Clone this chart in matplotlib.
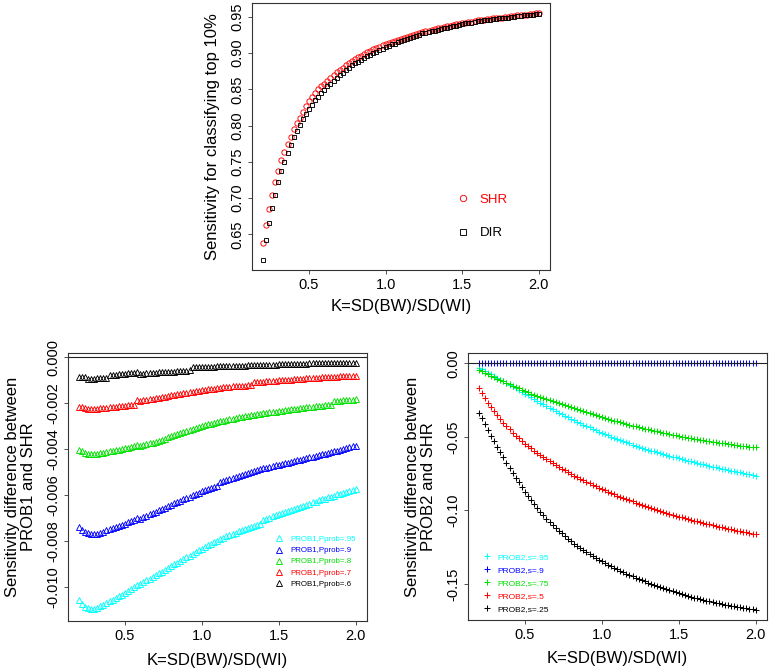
import numpy as np
import matplotlib
matplotlib.use("Agg")
import matplotlib.pyplot as plt

plt.rcParams['font.family'] = ['Liberation Sans', 'DejaVu Sans']

# K = SD(BW)/SD(WI), 0.20 .. 2.00 in steps of 0.02
k = np.round(np.arange(0.20, 2.0001, 0.02), 2)

# top panel: sensitivity for classifying top 10%
shr = [0.638, 0.663, 0.685, 0.705, 0.722, 0.738, 0.752, 0.764, 0.775, 0.785,
       0.795, 0.803, 0.811, 0.819, 0.827, 0.834, 0.840, 0.845, 0.850, 0.854,
       0.858, 0.862, 0.866, 0.870, 0.874, 0.877, 0.880, 0.883, 0.886, 0.889,
       0.892, 0.894, 0.896, 0.899, 0.901, 0.903, 0.905, 0.907, 0.909, 0.911,
       0.912, 0.914, 0.915, 0.917, 0.918, 0.920, 0.921, 0.922, 0.924, 0.925,
       0.926, 0.927, 0.929, 0.930, 0.931, 0.932, 0.933, 0.934, 0.935, 0.936,
       0.937, 0.938, 0.939, 0.940, 0.940, 0.941, 0.942, 0.943, 0.943, 0.944,
       0.945, 0.945, 0.946, 0.947, 0.947, 0.948, 0.948, 0.949, 0.949, 0.950,
       0.950, 0.951, 0.951, 0.952, 0.952, 0.953, 0.953, 0.954, 0.954, 0.955,
       0.955]
dir_ = [0.615, 0.642, 0.666, 0.687, 0.705, 0.722, 0.737, 0.750, 0.762, 0.773,
        0.784, 0.793, 0.801, 0.809, 0.816, 0.823, 0.829, 0.835, 0.840, 0.845,
        0.849, 0.854, 0.858, 0.862, 0.866, 0.870, 0.873, 0.876, 0.880, 0.883,
        0.886, 0.888, 0.891, 0.893, 0.896, 0.898, 0.900, 0.902, 0.904, 0.906,
        0.908, 0.910, 0.912, 0.913, 0.915, 0.917, 0.918, 0.919, 0.921, 0.922,
        0.924, 0.925, 0.927, 0.928, 0.929, 0.930, 0.931, 0.932, 0.933, 0.934,
        0.935, 0.936, 0.937, 0.938, 0.939, 0.940, 0.941, 0.941, 0.942, 0.943,
        0.944, 0.944, 0.945, 0.946, 0.946, 0.947, 0.947, 0.948, 0.948, 0.949,
        0.949, 0.950, 0.950, 0.951, 0.951, 0.952, 0.952, 0.953, 0.953, 0.954,
        0.954]

# bottom left: PROB1 - SHR, in units of 1e-3
prob1_95 = [-10.57, -10.75, -10.86, -10.93, -10.97, -10.96, -10.90, -10.84, -10.77, -10.70,
            -10.63, -10.56, -10.48, -10.41, -10.33, -10.26, -10.18, -10.10, -10.00, -9.93,
            -9.86, -9.79, -9.71, -9.64, -9.56, -9.48, -9.41, -9.33, -9.25, -9.17,
            -9.09, -9.01, -8.94, -8.86, -8.78, -8.70, -8.63, -8.55, -8.48, -8.40,
            -8.33, -8.26, -8.19, -8.12, -8.05, -7.98, -7.92, -7.86, -7.80, -7.74,
            -7.68, -7.63, -7.58, -7.53, -7.48, -7.43, -7.39, -7.35, -7.31, -7.27,
            -7.08, -7.03, -6.98, -6.93, -6.88, -6.83, -6.78, -6.73, -6.69, -6.64,
            -6.59, -6.55, -6.50, -6.46, -6.41, -6.37, -6.32, -6.28, -6.23, -6.19,
            -6.15, -6.10, -6.06, -6.02, -5.97, -5.93, -5.89, -5.85, -5.80, -5.76,
            -5.72]
prob1_90 = [-7.40, -7.52, -7.60, -7.66, -7.70, -7.71, -7.69, -7.66, -7.62, -7.53,
            -7.49, -7.44, -7.39, -7.34, -7.29, -7.24, -7.19, -7.14, -7.08, -7.00,
            -7.02, -6.96, -6.90, -6.84, -6.78, -6.72, -6.66, -6.60, -6.54, -6.48,
            -6.42, -6.36, -6.30, -6.24, -6.18, -6.12, -6.06, -6.00, -5.95, -5.89,
            -5.84, -5.79, -5.74, -5.69, -5.64, -5.60, -5.42, -5.38, -5.33, -5.29,
            -5.24, -5.20, -5.16, -5.12, -5.08, -5.04, -5.00, -4.96, -4.92, -4.88,
            -4.84, -4.81, -4.77, -4.74, -4.70, -4.67, -4.64, -4.61, -4.58, -4.55,
            -4.51, -4.48, -4.45, -4.42, -4.39, -4.36, -4.33, -4.29, -4.26, -4.23,
            -4.20, -4.16, -4.13, -4.09, -4.06, -4.02, -3.98, -3.95, -3.91, -3.88,
            -3.84]
prob1_80 = [-4.03, -4.10, -4.15, -4.20, -4.22, -4.21, -4.19, -4.17, -4.15, -4.13,
            -4.10, -4.08, -4.05, -4.02, -3.99, -3.96, -3.93, -3.90, -3.87, -3.80,
            -3.84, -3.81, -3.78, -3.74, -3.71, -3.67, -3.64, -3.60, -3.57, -3.45,
            -3.41, -3.37, -3.33, -3.28, -3.24, -3.20, -3.16, -3.12, -3.08, -3.04,
            -3.00, -2.96, -2.92, -2.89, -2.85, -2.82, -2.79, -2.76, -2.73, -2.70,
            -2.67, -2.64, -2.62, -2.59, -2.57, -2.54, -2.52, -2.50, -2.48, -2.46,
            -2.44, -2.42, -2.40, -2.38, -2.36, -2.34, -2.32, -2.30, -2.28, -2.27,
            -2.25, -2.23, -2.21, -2.20, -2.18, -2.16, -2.15, -2.13, -2.12, -2.10,
            -2.09, -2.07, -2.06, -1.92, -1.91, -1.89, -1.88, -1.87, -1.86, -1.84,
            -1.83]
prob1_70 = [-2.18, -2.18, -2.19, -2.26, -2.27, -2.25, -2.24, -2.22, -2.21, -2.19,
            -2.18, -2.16, -2.15, -2.13, -2.12, -2.10, -2.09, -2.07, -2.06, -1.88,
            -1.90, -1.88, -1.86, -1.83, -1.81, -1.78, -1.76, -1.73, -1.71, -1.68,
            -1.66, -1.63, -1.61, -1.58, -1.56, -1.54, -1.51, -1.49, -1.47, -1.45,
            -1.43, -1.41, -1.39, -1.37, -1.36, -1.34, -1.33, -1.31, -1.30, -1.29,
            -1.27, -1.26, -1.25, -1.24, -1.23, -1.22, -1.21, -1.09, -1.08, -1.07,
            -1.06, -1.05, -1.04, -1.03, -1.02, -1.01, -1.00, -0.99, -0.98, -0.97,
            -0.96, -0.95, -0.94, -0.93, -0.92, -0.91, -0.90, -0.89, -0.89, -0.88,
            -0.87, -0.86, -0.85, -0.85, -0.84, -0.83, -0.83, -0.82, -0.81, -0.81,
            -0.80]
prob1_60 = [-0.85, -0.85, -0.86, -0.93, -0.94, -0.93, -0.92, -0.91, -0.90, -0.89,
            -0.78, -0.77, -0.76, -0.74, -0.73, -0.72, -0.70, -0.69, -0.67, -0.65,
            -0.72, -0.71, -0.70, -0.69, -0.68, -0.67, -0.66, -0.66, -0.65, -0.64,
            -0.63, -0.62, -0.61, -0.60, -0.59, -0.58, -0.57, -0.44, -0.44, -0.43,
            -0.43, -0.42, -0.42, -0.41, -0.41, -0.40, -0.40, -0.39, -0.39, -0.38,
            -0.38, -0.37, -0.37, -0.36, -0.36, -0.35, -0.35, -0.35, -0.34, -0.34,
            -0.33, -0.33, -0.32, -0.32, -0.32, -0.31, -0.31, -0.30, -0.30, -0.30,
            -0.29, -0.29, -0.28, -0.28, -0.28, -0.27, -0.27, -0.27, -0.26, -0.26,
            -0.26, -0.25, -0.25, -0.25, -0.25, -0.24, -0.24, -0.24, -0.24, -0.23,
            -0.23]

# bottom right: PROB2 - SHR
prob2_95 = [-0.0030, -0.0041, -0.0052, -0.0064, -0.0076, -0.0088, -0.0100, -0.0111, -0.0122, -0.0134,
            -0.0146, -0.0158, -0.0170, -0.0182, -0.0194, -0.0207, -0.0219, -0.0231, -0.0243, -0.0255,
            -0.0267, -0.0278, -0.0290, -0.0301, -0.0313, -0.0324, -0.0335, -0.0345, -0.0356, -0.0366,
            -0.0377, -0.0387, -0.0397, -0.0407, -0.0417, -0.0427, -0.0436, -0.0446, -0.0455, -0.0465,
            -0.0474, -0.0482, -0.0490, -0.0499, -0.0507, -0.0515, -0.0523, -0.0530, -0.0538, -0.0545,
            -0.0553, -0.0560, -0.0567, -0.0573, -0.0580, -0.0587, -0.0593, -0.0599, -0.0606, -0.0612,
            -0.0618, -0.0624, -0.0629, -0.0635, -0.0640, -0.0646, -0.0651, -0.0656, -0.0662, -0.0667,
            -0.0672, -0.0677, -0.0682, -0.0687, -0.0692, -0.0697, -0.0702, -0.0706, -0.0711, -0.0715,
            -0.0720, -0.0724, -0.0729, -0.0733, -0.0738, -0.0742, -0.0746, -0.0750, -0.0755, -0.0759,
            -0.0763]
prob2_90 = [0.0, 0.0, 0.0, 0.0, 0.0, 0.0, 0.0, 0.0, 0.0, 0.0,
            0.0, 0.0, 0.0, 0.0, 0.0, 0.0, 0.0, 0.0, 0.0, 0.0,
            0.0, 0.0, 0.0, 0.0, 0.0, 0.0, 0.0, 0.0, 0.0, 0.0,
            0.0, 0.0, 0.0, 0.0, 0.0, 0.0, 0.0, 0.0, 0.0, 0.0,
            0.0, 0.0, 0.0, 0.0, 0.0, 0.0, 0.0, 0.0, 0.0, 0.0,
            0.0, 0.0, 0.0, 0.0, 0.0, 0.0, 0.0, 0.0, 0.0, 0.0,
            0.0, 0.0, 0.0, 0.0, 0.0, 0.0, 0.0, 0.0, 0.0, 0.0,
            0.0, 0.0, 0.0, 0.0, 0.0, 0.0, 0.0, 0.0, 0.0, 0.0,
            0.0, 0.0, 0.0, 0.0, 0.0, 0.0, 0.0, 0.0, 0.0, 0.0,
            0.0]
prob2_75 = [-0.0045, -0.0055, -0.0065, -0.0075, -0.0085, -0.0095, -0.0105, -0.0114, -0.0124, -0.0133,
            -0.0143, -0.0152, -0.0162, -0.0171, -0.0181, -0.0190, -0.0198, -0.0206, -0.0213, -0.0221,
            -0.0229, -0.0236, -0.0243, -0.0251, -0.0258, -0.0265, -0.0272, -0.0279, -0.0286, -0.0293,
            -0.0300, -0.0307, -0.0314, -0.0320, -0.0327, -0.0334, -0.0340, -0.0347, -0.0353, -0.0360,
            -0.0366, -0.0372, -0.0378, -0.0383, -0.0389, -0.0395, -0.0401, -0.0406, -0.0412, -0.0417,
            -0.0423, -0.0428, -0.0433, -0.0439, -0.0444, -0.0449, -0.0454, -0.0459, -0.0463, -0.0468,
            -0.0473, -0.0477, -0.0481, -0.0486, -0.0490, -0.0494, -0.0498, -0.0502, -0.0505, -0.0509,
            -0.0513, -0.0516, -0.0520, -0.0523, -0.0527, -0.0530, -0.0533, -0.0536, -0.0539, -0.0542,
            -0.0545, -0.0548, -0.0551, -0.0553, -0.0556, -0.0559, -0.0561, -0.0564, -0.0566, -0.0569,
            -0.0571]
prob2_50 = [-0.0170, -0.0204, -0.0236, -0.0267, -0.0297, -0.0325, -0.0352, -0.0378, -0.0403, -0.0427,
            -0.0450, -0.0471, -0.0491, -0.0510, -0.0528, -0.0546, -0.0562, -0.0578, -0.0594, -0.0609,
            -0.0624, -0.0638, -0.0652, -0.0665, -0.0679, -0.0692, -0.0704, -0.0716, -0.0728, -0.0740,
            -0.0752, -0.0763, -0.0774, -0.0785, -0.0796, -0.0806, -0.0816, -0.0826, -0.0836, -0.0846,
            -0.0855, -0.0864, -0.0873, -0.0882, -0.0891, -0.0899, -0.0907, -0.0915, -0.0923, -0.0931,
            -0.0939, -0.0947, -0.0954, -0.0962, -0.0969, -0.0976, -0.0983, -0.0990, -0.0997, -0.1003,
            -0.1010, -0.1016, -0.1023, -0.1029, -0.1035, -0.1041, -0.1047, -0.1052, -0.1058, -0.1063,
            -0.1069, -0.1074, -0.1079, -0.1085, -0.1090, -0.1095, -0.1100, -0.1105, -0.1110, -0.1114,
            -0.1119, -0.1123, -0.1128, -0.1132, -0.1137, -0.1141, -0.1145, -0.1149, -0.1154, -0.1158,
            -0.1162]
prob2_25 = [-0.0335, -0.0375, -0.0415, -0.0454, -0.0492, -0.0530, -0.0567, -0.0603, -0.0639, -0.0675,
            -0.0710, -0.0744, -0.0777, -0.0810, -0.0843, -0.0875, -0.0903, -0.0930, -0.0957, -0.0984,
            -0.1010, -0.1033, -0.1055, -0.1077, -0.1099, -0.1120, -0.1138, -0.1156, -0.1174, -0.1192,
            -0.1210, -0.1225, -0.1240, -0.1255, -0.1270, -0.1284, -0.1296, -0.1309, -0.1321, -0.1334,
            -0.1346, -0.1357, -0.1368, -0.1378, -0.1389, -0.1400, -0.1410, -0.1419, -0.1429, -0.1438,
            -0.1448, -0.1456, -0.1465, -0.1473, -0.1482, -0.1490, -0.1498, -0.1505, -0.1513, -0.1520,
            -0.1528, -0.1535, -0.1542, -0.1548, -0.1555, -0.1562, -0.1568, -0.1574, -0.1580, -0.1586,
            -0.1592, -0.1597, -0.1602, -0.1607, -0.1612, -0.1617, -0.1621, -0.1626, -0.1630, -0.1635,
            -0.1639, -0.1643, -0.1647, -0.1650, -0.1654, -0.1658, -0.1661, -0.1665, -0.1668, -0.1672,
            -0.1675]

series_colors = ['#00FFFF', '#0000FF', '#00E000', '#FF0000', '#000000']
prob1_labels = ['PROB1,Pprob=.95', 'PROB1,Pprob=.9', 'PROB1,Pprob=.8',
                'PROB1,Pprob=.7', 'PROB1,Pprob=.6']
prob2_labels = ['PROB2,s=.95', 'PROB2,s=.9', 'PROB2,s=.75', 'PROB2,s=.5', 'PROB2,s=.25']
xlab = "K=SD(BW)/SD(WI)"


def r_style(ax):
    # base-R look: box, outward ticks on left/bottom, rotated y labels
    for s in ax.spines.values():
        s.set_linewidth(0.8)
        s.set_color('#333333')
    ax.tick_params(direction='out', length=3.2, width=0.6, labelsize=10.5,
                   colors='#333333', labelcolor='black')
    ax.tick_params(axis='x', pad=2.8)
    ax.tick_params(axis='y', pad=2.0, labelrotation=90)
    for lab in ax.get_yticklabels():
        lab.set_va('center')
    ax.set_xlim(0.128, 2.072)
    ax.set_xticks([0.5, 1.0, 1.5, 2.0])
    ax.set_xticklabels(['0.5', '1.0', '1.5', '2.0'])


fig = plt.figure(figsize=(7.71, 6.70), dpi=100)

###########################################################
# top: SHR vs DIR
ax1 = fig.add_axes([0.3268, 0.597, 0.3865, 0.3985])
ax1.plot(k, shr, ls='none', color='red', marker='o', ms=3.8, mfc='none', mew=0.65, label='SHR')
ax1.plot(k, dir_, ls='none', color='black', marker='s', ms=3.4, mfc='none', mew=0.65, label='DIR')
ax1.set_ylim(0.601, 0.969)
yt = [0.65, 0.70, 0.75, 0.80, 0.85, 0.90, 0.95]
ax1.set_yticks(yt)
ax1.set_yticklabels(["%.2f" % v for v in yt])
r_style(ax1)
ax1.set_xlabel(xlab, fontsize=12)
ax1.set_ylabel("Sensitivity for classifying top 10%", fontsize=12)
ax1.xaxis.set_label_coords(0.5, -0.11)
ax1.yaxis.set_label_coords(-0.107, 0.5)
ax1.legend(loc='center left', bbox_to_anchor=(0.685, 0.201), frameon=False,
           fontsize=9.5, labelcolor='linecolor', markerscale=1.2,
           handlelength=1.0, handletextpad=0.8, labelspacing=1.6,
           borderpad=0, borderaxespad=0)

###########################################################
# bottom left: PROB1 - SHR
ax2 = fig.add_axes([0.0878, 0.0731, 0.3878, 0.4005])
prob1 = [prob1_95, prob1_90, prob1_80, prob1_70, prob1_60]
for vals, col, lab in zip(prob1, series_colors, prob1_labels):
    ax2.plot(k, np.array(vals) * 1e-3, ls='none', color=col, marker='^', ms=4.2,
             mfc='none', mew=0.65, label=lab)
ax2.axhline(0, color='#222222', lw=0.8)
ax2.set_ylim(-0.01148, 0.0002)
yt = [-0.010, -0.008, -0.006, -0.004, -0.002, 0.000]
ax2.set_yticks(yt)
ax2.set_yticklabels(["%.3f" % v for v in yt])
r_style(ax2)
ax2.set_xlabel(xlab, fontsize=12)
ax2.set_ylabel("Sensitivity difference between\nPROB1 and SHR", fontsize=12, linespacing=1.1)
ax2.xaxis.set_label_coords(0.5, -0.118)
ax2.yaxis.set_label_coords(-0.105, 0.5)
ax2.legend(loc='center left', bbox_to_anchor=(0.6945, 0.221), frameon=False,
           fontsize=5.7, labelcolor='linecolor', markerscale=0.95,
           handlelength=1.0, handletextpad=0.94, labelspacing=0.46,
           borderpad=0, borderaxespad=0)

###########################################################
# bottom right: PROB2 - SHR
ax3 = fig.add_axes([0.6066, 0.0746, 0.3878, 0.398])
prob2 = [prob2_95, prob2_90, prob2_75, prob2_50, prob2_25]
for vals, col, lab in zip(prob2, series_colors, prob2_labels):
    ax3.plot(k, vals, ls='none', color=col, marker='+', ms=5.0, mew=0.75, label=lab)
ax3.axhline(0, color='#222222', lw=0.8)
ax3.set_ylim(-0.1744, 0.0067)
yt = [-0.15, -0.10, -0.05, 0.00]
ax3.set_yticks(yt)
ax3.set_yticklabels(["%.2f" % v for v in yt])
r_style(ax3)
ax3.set_xlabel(xlab, fontsize=12)
ax3.set_ylabel("Sensitivity difference between\nPROB2 and SHR", fontsize=12, linespacing=1.1)
ax3.xaxis.set_label_coords(0.5, -0.118)
ax3.yaxis.set_label_coords(-0.105, 0.5)
ax3.legend(loc='center left', bbox_to_anchor=(0.0495, 0.139), frameon=False,
           fontsize=6, labelcolor='linecolor', markerscale=0.9,
           handlelength=1.0, handletextpad=0.78, labelspacing=0.62,
           borderpad=0, borderaxespad=0)

plt.savefig("out.png", dpi=100)
